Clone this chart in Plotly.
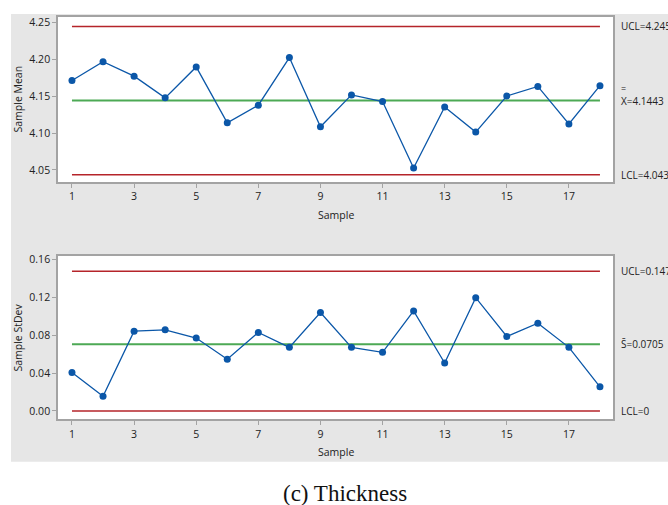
import plotly.graph_objects as go

samples = list(range(1, 19))
means = [4.1716, 4.197, 4.1775, 4.148, 4.190, 4.114, 4.138, 4.2027, 4.1086,
         4.152, 4.143, 4.0527, 4.1356, 4.1014, 4.1504, 4.1635, 4.1126, 4.1645]
stdevs = [0.0405, 0.0154, 0.0842, 0.0856, 0.0769, 0.0545, 0.0828, 0.0671, 0.1038,
          0.0671, 0.0618, 0.1055, 0.0506, 0.1195, 0.0786, 0.0926, 0.0671, 0.0255]
xbar_ucl, xbar_cl, xbar_lcl = 4.2451, 4.1443, 4.0435
s_ucl, s_cl, s_lcl = 0.1473, 0.0705, 0.0
x_ticks = [1, 3, 5, 7, 9, 11, 13, 15, 17]
mean_ticks = [4.05, 4.10, 4.15, 4.20, 4.25]
sd_ticks = [0.00, 0.04, 0.08, 0.12, 0.16]

W, H = 668, 505
RED = "#b5242a"
GREEN = "#4da955"
BLUE = "#0b57a8"
TXT = "#222222"
FONT = "Open Sans"

fig = go.Figure()

def add_chart(vals, ucl, cl, lcl, xa, ya):
    for v, c, w in [(ucl, RED, 1.5), (lcl, RED, 1.5), (cl, GREEN, 2)]:
        fig.add_trace(go.Scatter(x=[samples[0], samples[-1]], y=[v, v], mode="lines",
                                 line=dict(color=c, width=w), xaxis=xa, yaxis=ya,
                                 hoverinfo="skip", showlegend=False))
    fig.add_trace(go.Scatter(x=samples, y=vals, mode="lines+markers",
                             line=dict(color=BLUE, width=1.3),
                             marker=dict(color=BLUE, size=7),
                             xaxis=xa, yaxis=ya, showlegend=False))

add_chart(means, xbar_ucl, xbar_cl, xbar_lcl, "x", "y")
add_chart(stdevs, s_ucl, s_cl, s_lcl, "x2", "y2")

px0, px1 = 58 / W, 613 / W
top_dom = [1 - 179.5 / H, 1 - 13 / H]
bot_dom = [1 - 418.5 / H, 1 - 254 / H]

axis_common = dict(showgrid=False, zeroline=False, showline=True, mirror=True,
                   linecolor="#a3a3a3", linewidth=1.5, ticks="outside", ticklen=4,
                   tickcolor="#a3a3a3", tickwidth=1,
                   tickfont=dict(family=FONT, size=10.5, color=TXT))

fig.update_layout(
    width=W, height=H, margin=dict(l=0, r=0, t=0, b=0),
    paper_bgcolor="white", plot_bgcolor="rgba(0,0,0,0)",
    xaxis=dict(domain=[px0, px1], range=[0.55, 18.42], tickvals=x_ticks, anchor="y", **axis_common),
    yaxis=dict(domain=top_dom, range=[4.0335, 4.258], tickvals=mean_ticks, tickformat=".2f",
               anchor="x", **axis_common),
    xaxis2=dict(domain=[px0, px1], range=[0.55, 18.42], tickvals=x_ticks, anchor="y2", **axis_common),
    yaxis2=dict(domain=bot_dom, range=[-0.0087, 0.1635], tickvals=sd_ticks, tickformat=".2f",
                anchor="x2", **axis_common),
    showlegend=False,
)

shapes = [
    dict(type="rect", xref="paper", yref="paper", x0=11 / W, x1=1, y0=1 - 461.5 / H, y1=1 - 10 / H,
         fillcolor="#e6e6e6", line=dict(width=0), layer="below"),
    dict(type="rect", xref="paper", yref="paper", x0=px0, x1=px1, y0=top_dom[0], y1=top_dom[1],
         fillcolor="white", line=dict(width=0), layer="below"),
    dict(type="rect", xref="paper", yref="paper", x0=px0, x1=px1, y0=bot_dom[0], y1=bot_dom[1],
         fillcolor="white", line=dict(width=0), layer="below"),
]
fig.update_layout(shapes=shapes)

lab_x = 619 / W
f = dict(family=FONT, size=10, color=TXT)
anns = [
    dict(x=lab_x, y=xbar_ucl, xref="paper", yref="y", text="UCL=4.245", xanchor="left",
         yanchor="middle", showarrow=False, font=f),
    dict(x=lab_x, y=xbar_lcl, xref="paper", yref="y", text="LCL=4.043", xanchor="left",
         yanchor="middle", showarrow=False, font=f),
    dict(x=lab_x, y=xbar_cl, xref="paper", yref="y", text=f"X={xbar_cl:.4f}", xanchor="left",
         yanchor="middle", showarrow=False, font=f),
    dict(x=lab_x, y=xbar_cl, xref="paper", yref="y", text="=", xanchor="left", yanchor="middle",
         yshift=12, showarrow=False, font=dict(family=FONT, size=9, color=TXT)),
    dict(x=lab_x, y=s_ucl, xref="paper", yref="y2", text="UCL=0.147", xanchor="left",
         yanchor="middle", showarrow=False, font=f),
    dict(x=lab_x, y=s_cl, xref="paper", yref="y2", text=f"S\u0304={s_cl:.4f}", xanchor="left",
         yanchor="middle", showarrow=False, font=f),
    dict(x=lab_x, y=s_lcl, xref="paper", yref="y2", text="LCL=0", xanchor="left",
         yanchor="middle", showarrow=False, font=f),
    dict(x=18 / W, y=sum(top_dom) / 2, xref="paper", yref="paper", text="Sample Mean", textangle=-90,
         xanchor="center", yanchor="middle", showarrow=False,
         font=dict(family=FONT, size=10.5, color=TXT)),
    dict(x=18 / W, y=sum(bot_dom) / 2, xref="paper", yref="paper", text="Sample StDev", textangle=-90,
         xanchor="center", yanchor="middle", showarrow=False,
         font=dict(family=FONT, size=10.5, color=TXT)),
    dict(x=336 / W, y=1 - 213 / H, xref="paper", yref="paper", text="Sample",
         xanchor="center", yanchor="middle", showarrow=False,
         font=dict(family=FONT, size=10.5, color=TXT)),
    dict(x=336 / W, y=1 - 452 / H, xref="paper", yref="paper", text="Sample",
         xanchor="center", yanchor="middle", showarrow=False,
         font=dict(family=FONT, size=10.5, color=TXT)),
    dict(x=345 / W, y=1 - 493 / H, xref="paper", yref="paper", text="(c) Thickness",
         xanchor="center", yanchor="middle", showarrow=False,
         font=dict(family="Liberation Serif", size=23, color="#111111")),
]
fig.update_layout(annotations=anns)

fig.write_html("out.html")
